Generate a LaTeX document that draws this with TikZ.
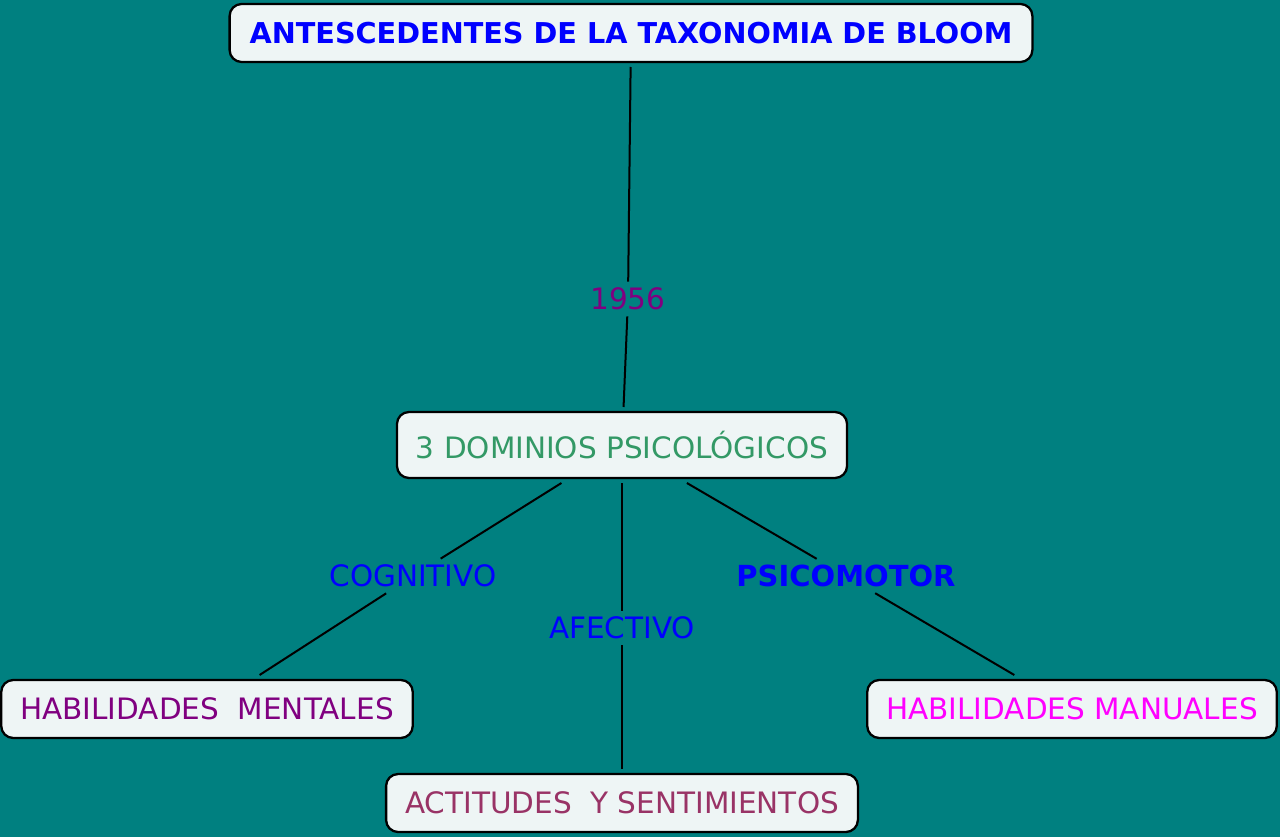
\documentclass[tikz,border=0pt]{standalone}
\usepackage{fontspec}
\setmainfont{DejaVu Sans}
\usepackage{tikz}
\usetikzlibrary{positioning}

\definecolor{teal bg}{HTML}{008080}
\definecolor{box fill}{HTML}{EEF5F5}
\definecolor{dom green}{HTML}{339966}
\definecolor{mental purple}{HTML}{800080}
\definecolor{act wine}{HTML}{993366}
\definecolor{manual pink}{HTML}{FF00FF}
\definecolor{link blue}{HTML}{0000FF}

\begin{document}
\begin{tikzpicture}
    [x=1pt, y=-1pt,
     concept box/.style={draw, line width=2.3pt, rounded corners=12pt, fill=box fill,
       inner xsep=19pt, minimum height=58pt, outer sep=5pt,
       font=\fontsize{29.5}{34}\selectfont},
     link label/.style={inner sep=6pt, text=link blue, font=\fontsize{29.5}{34}\selectfont},
     link/.style={line width=2pt}]
    \fill[teal bg] (0,0) rectangle (1280,837);
    \useasboundingbox (0,0) rectangle (1280,837);

    \node[concept box, text=link blue, inner xsep=20pt, font=\fontsize{28.7}{34}\selectfont\bfseries] (title) at (631,33)
      {ANTESCEDENTES DE LA TAXONOMIA DE BLOOM};
    \node[concept box, text=dom green, minimum height=66pt] (dom) at (622,445)
      {3 DOMINIOS PSICOLÓGICOS};
    \node[concept box, text=mental purple] (mental) at (207,709) {HABILIDADES\ \ MENTALES};
    \node[concept box, text=act wine] (attitude) at (622,803) {ACTITUDES\ \ Y SENTIMIENTOS};
    \node[concept box, text=manual pink] (manual) at (1072,709) {HABILIDADES MANUALES};

    \node[link label, text=mental purple] (year) at (628,299) {1956};
    \node[link label] (cog) at (413,576) {COGNITIVO};
    \node[link label] (afe) at (622,628) {AFECTIVO};
    \node[link label, font=\fontsize{29}{34}\selectfont\bfseries] (psi) at (846,576) {PSICOMOTOR};

    \draw[link] (title) -- (year) -- (dom);
    \draw[link] (dom) -- (cog) -- (mental);
    \draw[link] (dom) -- (afe) -- (attitude);
    \draw[link] (dom) -- (psi) -- (manual);
  \end{tikzpicture}
\end{document}
